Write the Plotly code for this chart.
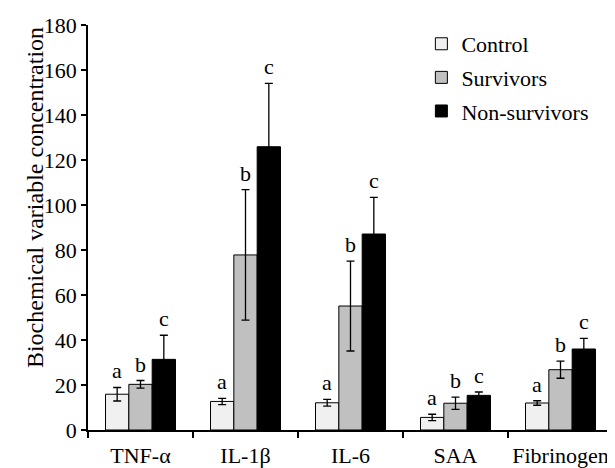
import plotly.graph_objects as go

categories = ["TNF-α", "IL-1β", "IL-6", "SAA", "Fibrinogen"]
series_names = ["Control", "Survivors", "Non-survivors"]
control = [15.9, 12.7, 12.1, 5.6, 12.0]
control_err = [3.0, 1.4, 1.5, 1.4, 1.0]
survivors = [20.3, 77.8, 55.1, 11.9, 26.8]
survivors_err = [1.7, 29.0, 20.0, 2.7, 3.8]
nonsurv = [31.4, 125.9, 87.1, 15.4, 36.0]
nonsurv_err = [10.7, 28.2, 16.3, 1.5, 4.7]
letters_control = ["a", "a", "a", "a", "a"]
letters_survivors = ["b", "b", "b", "b", "b"]
letters_nonsurv = ["c", "c", "c", "c", "c"]
y_ticks = [0, 20, 40, 60, 80, 100, 120, 140, 160, 180]
y_title = "Biochemical variable concentration"

FONT = "Liberation Serif"
colors = ["#f0f0f0", "#c0c0c0", "#000000"]
values = [control, survivors, nonsurv]
errors = [control_err, survivors_err, nonsurv_err]
letters = [letters_control, letters_survivors, letters_nonsurv]

fig = go.Figure()
for k in range(3):
    fig.add_trace(go.Bar(
        x=categories, y=values[k], name=series_names[k],
        marker=dict(color=colors[k], line=dict(color="black", width=1)),
        error_y=dict(type="data", array=errors[k], visible=True,
                     color="black", thickness=1.3, width=4),
        legendgroup=series_names[k],
    ))

bargap = 1/3
bw = (1 - bargap) / 3
annotations = []
for k in range(3):
    off = (k - 1) * bw
    for i in range(len(categories)):
        annotations.append(dict(
            x=i + off, y=values[k][i] + errors[k][i], xref="x", yref="y",
            text=letters[k][i], showarrow=False, yanchor="bottom", yshift=2,
            font=dict(family=FONT, size=22, color="black"),
        ))
# y-axis title placed as a rotated annotation
annotations.append(dict(
    x=-0.101, y=0.575, xref="paper", yref="paper", text=y_title,
    textangle=-90, showarrow=False, xanchor="center", yanchor="middle",
    font=dict(family=FONT, size=24, color="black"),
))

# page body has an 8px margin, so the figure is sized/offset to land the plot area
# where the reference has it
fig.update_layout(
    width=607, height=460,
    margin=dict(l=80, r=2, t=17, b=38, autoexpand=False),
    paper_bgcolor="white", plot_bgcolor="white",
    barmode="group", bargap=bargap, bargroupgap=0,
    font=dict(family=FONT, size=22, color="black"),
    showlegend=True,
    legend=dict(x=0.635, y=1.005, xanchor="left", yanchor="top",
                font=dict(family=FONT, size=22), traceorder="grouped",
                tracegroupgap=2, itemwidth=30, bgcolor="rgba(0,0,0,0)"),
    annotations=annotations,
)
fig.update_xaxes(
    showline=True, linecolor="black", linewidth=1.5,
    ticks="outside", tickson="boundaries", ticklen=6, tickwidth=1.5, tickcolor="black",
    tickfont=dict(family=FONT, size=22), tickangle=0, automargin=False,
    ticklabelstandoff=5,
    showgrid=False, zeroline=False, range=[-0.5, 4.5],
)
fig.update_yaxes(
    showline=True, linecolor="black", linewidth=1.5,
    ticks="outside", ticklen=5, tickwidth=1.5, tickcolor="black",
    tickvals=y_ticks, range=[0, 180], showgrid=False, zeroline=False,
    tickfont=dict(family=FONT, size=22), automargin=False,
)
fig.write_html("out.html")
